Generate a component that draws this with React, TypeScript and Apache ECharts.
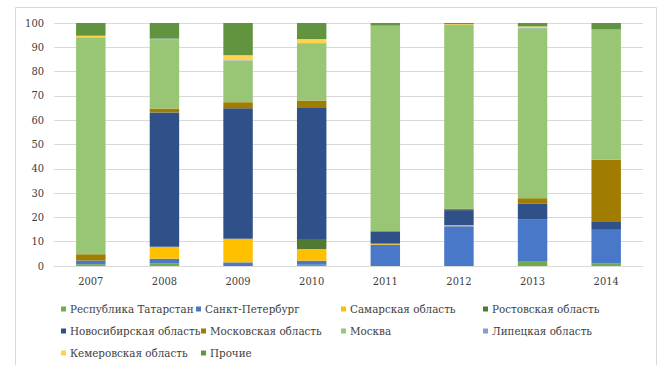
import React, { useEffect, useRef } from "react";
import * as echarts from "echarts";

const years = ["2007", "2008", "2009", "2010", "2011", "2012", "2013", "2014"];
const yTicks = [0, 10, 20, 30, 40, 50, 60, 70, 80, 90, 100];

const seriesNames = [
  "Республика Татарстан",
  "Санкт-Петербург",
  "Самарская область",
  "Ростовская область",
  "Новосибирская область",
  "Московская область",
  "Москва",
  "Липецкая область",
  "Кемеровская область",
  "Прочие",
];

const tatarstan = [0.7, 1.0, 0, 0.5, 0, 0, 2.1, 1.2];
const spb = [1.6, 2.0, 1.5, 1.7, 8.8, 16.4, 17.1, 13.6];
const samara = [0, 4.9, 9.7, 4.8, 0.4, 0.4, 0, 0];
const rostov = [0, 0, 0, 4.1, 0, 0, 0, 0.4];
const novosibirsk = [0, 55.3, 53.7, 54.2, 5.0, 6.2, 6.4, 3.2];
const moscowOblast = [2.5, 1.6, 2.5, 2.8, 0.2, 0.6, 2.3, 25.3];
const moscow = [89.3, 28.5, 17.1, 23.3, 84.5, 75.6, 69.9, 53.4];
const lipetsk = [0, 0.3, 0.2, 0.3, 0, 0, 0.3, 0.3];
const kemerovo = [0.7, 0, 2.0, 1.7, 0, 0.3, 0.5, 0];
const other = [5.2, 6.4, 13.3, 6.6, 1.1, 0.5, 1.4, 2.6];

const seriesValues = [tatarstan, spb, samara, rostov, novosibirsk, moscowOblast, moscow, lipetsk, kemerovo, other];

const colors = [
  "#70AD47",
  "#4A78C8",
  "#FFC000",
  "#507A32",
  "#2F5088",
  "#A07D00",
  "#98C674",
  "#7F9FD9",
  "#FFD34A",
  "#62943F",
];

// legend placement: [left, centerY]
const legendPos: [number, number][] = [
  [61, 310],
  [196, 310],
  [341, 310],
  [483, 310],
  [61, 332],
  [201, 332],
  [341, 332],
  [483, 332],
  [61, 354],
  [201, 354],
];

const FONT = "DejaVu Serif Condensed";
const FS = 11;
const LEGEND_FS = 11.5;

export default function App() {
  const ref = useRef<HTMLDivElement>(null);
  useEffect(() => {
    if (!ref.current) return;
    const chart = echarts.init(ref.current, undefined, { renderer: "svg" });
    const option: any = {
      animation: false,
      backgroundColor: "#ffffff",
      color: colors,
      textStyle: { fontFamily: FONT },
      graphic: [
        {
          type: "rect",
          shape: { x: 15.5, y: 7.5, width: 641, height: 380 },
          style: { fill: "none", stroke: "#D9D9D9", lineWidth: 1 },
          silent: true,
        },
      ],
      grid: { left: 54, right: 19, top: 23, bottom: 99, containLabel: false },
      legend: seriesNames.map((n, i) => ({
        data: [n],
        left: legendPos[i][0],
        top: legendPos[i][1] - 7,
        padding: 0,
        icon: "rect",
        itemWidth: 5,
        itemHeight: 5,
        textStyle: { fontFamily: FONT, fontSize: LEGEND_FS, color: "#404040", padding: [0, 0, 0, -1] },
      })),
      xAxis: {
        type: "category",
        data: years,
        axisLine: { show: true, lineStyle: { color: "#D9D9D9", width: 1 } },
        axisTick: { show: false },
        axisLabel: { fontFamily: FONT, fontSize: FS, color: "#404040", margin: 10 },
      },
      yAxis: {
        type: "value",
        min: yTicks[0],
        max: yTicks[yTicks.length - 1],
        interval: 10,
        axisLine: { show: false },
        axisTick: { show: false },
        splitLine: { lineStyle: { color: "#D9D9D9", width: 1 } },
        axisLabel: { fontFamily: FONT, fontSize: FS, color: "#404040", margin: 10 },
      },
      series: seriesNames.map((n, i) => ({
        name: n,
        type: "bar",
        stack: "total",
        barWidth: "40%",
        data: seriesValues[i],
        itemStyle: { color: colors[i] },
      })),
    };
    chart.setOption(option);
    return () => chart.dispose();
  }, []);
  return (
    <div
      ref={ref}
      style={{ position: "fixed", left: 0, top: 0, width: 662, height: 365 }}
    />
  );
}
